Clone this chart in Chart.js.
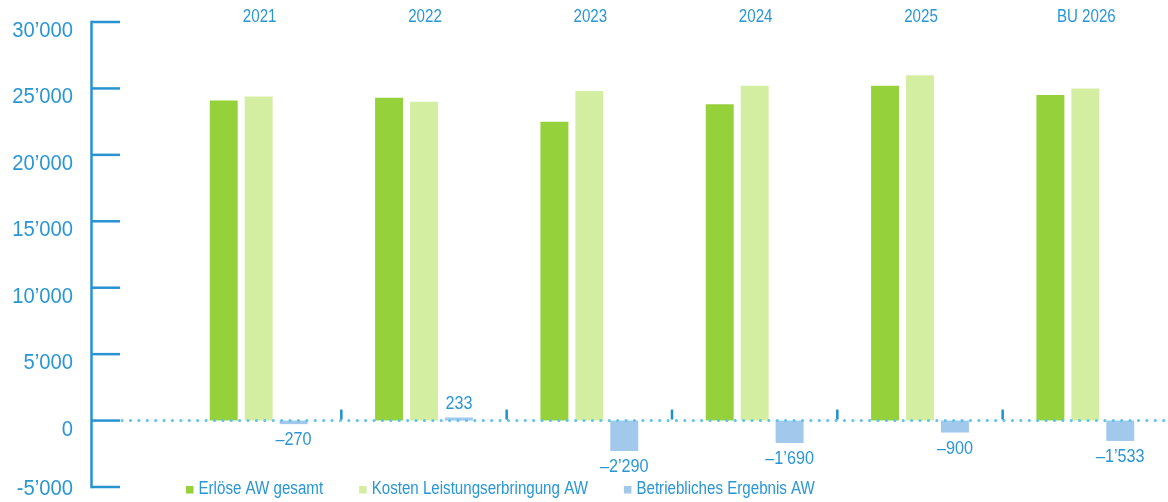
<!DOCTYPE html>
<html>
<head>
<meta charset="utf-8">
<script src="https://cdn.jsdelivr.net/npm/chart.js@4/dist/chart.umd.min.js"></script>
<style>
  html, body { margin: 0; padding: 0; background: #fff; }
  #wrap { width: 1168px; height: 502px; }
</style>
</head>
<body>
<div id="wrap"><canvas id="myChart" width="1168" height="502"></canvas></div>
<script>
// categories (years)
const years = ["2021", "2022", "2023", "2024", "2025", "BU 2026"];

// series values
const erloese = [24100, 24300, 22500, 23800, 25200, 24500];
const kosten = [24400, 24000, 24800, 25200, 26000, 25000];
const ergebnis = [-270, 233, -2290, -1690, -900, -1533];

// y tick values
const yTicks = [30000, 25000, 20000, 15000, 10000, 5000, 0, -5000];

const blueText = "#2996d6";
const axisBlue = "#2893d2";
const fontName = "'Liberation Sans', Arial, sans-serif";

// 25000 -> 25’000, negative data labels get an en dash
function fmt(v, dash) {
  const s = Math.abs(v).toString().replace(/\B(?=(\d{3})+(?!\d))/g, "\u2019");
  if (v < 0) return (dash ? "\u2013" : "-") + s;
  return s;
}

// squeeze text horizontally, the original uses a condensed face
function squeezed(ctx, str, x, y, align, sx) {
  ctx.save();
  ctx.translate(x, y);
  ctx.scale(sx, 1);
  ctx.textAlign = align;
  ctx.fillText(str, 0, 0);
  ctx.restore();
}

const decor = {
  id: "decor",
  afterDatasetsDraw(chart) {
    const ctx = chart.ctx;
    const y = chart.scales.y;
    const x = chart.scales.x;
    const area = chart.chartArea;
    const axisX = 91.5;
    const zero = y.getPixelForValue(0);

    ctx.save();

    // y axis line
    ctx.strokeStyle = axisBlue;
    ctx.lineWidth = 2.5;
    ctx.beginPath();
    ctx.moveTo(axisX, y.getPixelForValue(30000) - 1.2);
    ctx.lineTo(axisX, y.getPixelForValue(-5000) + 1.2);
    ctx.stroke();

    // tick lines + labels
    ctx.font = "22px " + fontName;
    ctx.fillStyle = blueText;
    ctx.textBaseline = "middle";
    yTicks.forEach(function (t) {
      const py = y.getPixelForValue(t);
      ctx.beginPath();
      ctx.moveTo(axisX, py);
      ctx.lineTo(120, py);
      ctx.stroke();
      const ly = Math.min(py + 9, chart.height - 13);
      squeezed(ctx, fmt(t, false), 73, ly, "right", 0.92);
    });

    // dotted zero line
    ctx.strokeStyle = "#5cc3ec";
    ctx.lineWidth = 3;
    ctx.lineCap = "round";
    ctx.setLineDash([0.1, 8.3]);
    ctx.beginPath();
    ctx.moveTo(122, zero);
    ctx.lineTo(area.right, zero);
    ctx.stroke();
    ctx.setLineDash([]);
    ctx.lineCap = "butt";

    // small separators between categories
    ctx.strokeStyle = "#1f8fd0";
    ctx.lineWidth = 2.5;
    for (let i = 0; i < years.length - 1; i++) {
      const mx = (x.getPixelForValue(i) + x.getPixelForValue(i + 1)) / 2;
      ctx.beginPath();
      ctx.moveTo(mx, zero - 11);
      ctx.lineTo(mx, zero - 1);
      ctx.stroke();
    }

    // year labels on top
    ctx.font = "18px " + fontName;
    ctx.textBaseline = "middle";
    years.forEach(function (lbl, i) {
      squeezed(ctx, lbl, x.getPixelForValue(i) + 1, 17, "center", 0.84);
    });

    // data labels for result bars
    const meta = chart.getDatasetMeta(2);
    ctx.font = "18px " + fontName;
    ctx.textBaseline = "alphabetic";
    meta.data.forEach(function (bar, i) {
      const v = ergebnis[i];
      const ty = v < 0 ? bar.y + 21 : bar.y - 8;
      squeezed(ctx, fmt(v, true), bar.x, ty, "center", 0.9);
    });

    // legend
    const sx = 0.84;
    ctx.font = "18px " + fontName;
    ctx.textBaseline = "middle";
    let lx = 186;
    chart.data.datasets.forEach(function (ds) {
      ctx.fillStyle = ds.backgroundColor;
      ctx.fillRect(lx, 486, 7.5, 7.5);
      ctx.fillStyle = blueText;
      squeezed(ctx, ds.label, lx + 12.5, 489.5, "left", sx);
      lx += 12.5 + ctx.measureText(ds.label).width * sx + 36;
    });

    ctx.restore();
  }
};

new Chart(document.getElementById("myChart"), {
  type: "bar",
  data: {
    labels: years,
    datasets: [
      { label: "Erlöse AW gesamt", data: erloese, backgroundColor: "#95d13b" },
      { label: "Kosten Leistungserbringung AW", data: kosten, backgroundColor: "#d3eea0" },
      { label: "Betriebliches Ergebnis AW", data: ergebnis, backgroundColor: "#a2c8ec" }
    ]
  },
  options: {
    responsive: false,
    animation: false,
    devicePixelRatio: 1,
    layout: { padding: { left: 176, right: 0, top: 22, bottom: 15 } },
    datasets: { bar: { categoryPercentage: 0.634, barPercentage: 0.8 } },
    plugins: { legend: { display: false }, tooltip: { enabled: false } },
    scales: {
      x: { display: false },
      y: { display: false, min: -5000, max: 30000 }
    }
  },
  plugins: [decor]
});
</script>
</body>
</html>
